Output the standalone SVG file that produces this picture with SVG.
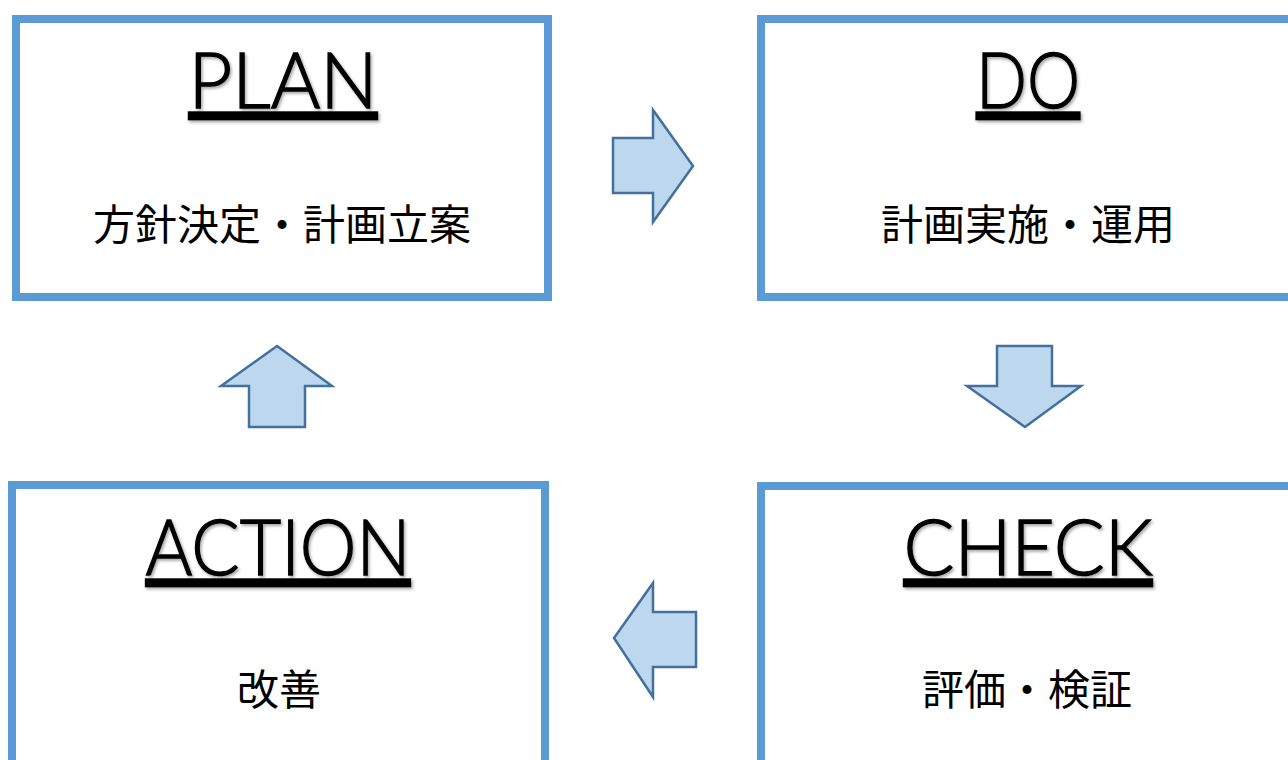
<svg xmlns="http://www.w3.org/2000/svg" width="1288" height="760" viewBox="0 0 1288 760">
<style>
.box{fill:#FFFFFF;stroke:#5B9BD5;stroke-width:8}
.arrow{fill:#BDD7EE;stroke:#41719C;stroke-width:2.5;stroke-linejoin:miter}
.title{font-family:"Lato","DejaVu Sans",sans-serif;font-weight:300;font-size:76px;fill:#000000;stroke:#000000;stroke-width:1.4;text-anchor:middle;text-decoration:underline;filter:url(#shadow)}
.sub{font-family:"Noto Sans CJK JP","Noto Sans",sans-serif;font-size:42px;fill:#000000;text-anchor:middle}
</style>
<defs>
<filter id="shadow" x="-10%" y="-20%" width="120%" height="150%">
<feDropShadow dx="1.5" dy="2" stdDeviation="1.5" flood-color="#000000" flood-opacity="0.35"/>
</filter>
</defs>
<rect width="1288" height="760" fill="#FFFFFF"/>
<g id="plan">
<rect class="box" x="16" y="19" width="532" height="278"/>
<text class="title" x="283" y="108" textLength="189" lengthAdjust="spacingAndGlyphs">PLAN</text>
<text class="sub" x="282" y="240">方針決定・計画立案</text>
</g>
<g id="do">
<rect class="box" x="761" y="19" width="534" height="278"/>
<text class="title" x="1028" y="108" textLength="104" lengthAdjust="spacingAndGlyphs">DO</text>
<text class="sub" x="1028" y="240">計画実施・運用</text>
</g>
<g id="check">
<rect class="box" x="761" y="486" width="534" height="290"/>
<text class="title" x="1028" y="575" textLength="249" lengthAdjust="spacingAndGlyphs">CHECK</text>
<text class="sub" x="1027" y="705">評価・検証</text>
</g>
<g id="action">
<rect class="box" x="12" y="485" width="533" height="290"/>
<text class="title" x="278" y="575" textLength="265" lengthAdjust="spacingAndGlyphs">ACTION</text>
<text class="sub" x="279" y="705">改善</text>
</g>
<g id="connectors">
<polygon class="arrow" points="613,138 653,138 653,110 693,166 653,222 653,193 613,193"/>
<polygon class="arrow" points="997,346 1052,346 1052,386 1081,386 1025,427 967,386 997,386"/>
<polygon class="arrow" points="696,612 653,612 653,583 614,638 653,697 653,667 696,667"/>
<polygon class="arrow" points="277,346 332,386 305,386 305,427 249,427 249,386 221,386"/>
</g>
</svg>
